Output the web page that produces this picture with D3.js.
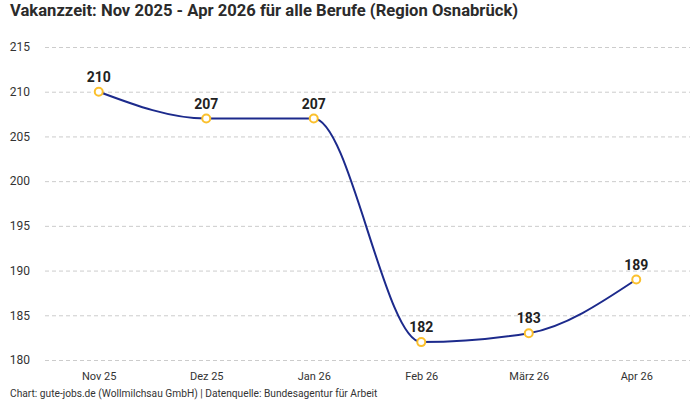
<!DOCTYPE html>
<html>
<head>
<meta charset="utf-8">
<script src="https://cdn.jsdelivr.net/npm/d3@7"></script>
<style>
  body { margin: 0; background: #fff; }
  svg { font-family: "Roboto", "Noto Sans", sans-serif; }
</style>
</head>
<body>
<svg width="700" height="400"></svg>
<script>
// Chart data
const months = ["Nov 25", "Dez 25", "Jan 26", "Feb 26", "März 26", "Apr 26"];
const vakanz = [210, 207, 207, 182, 183, 189];
const yTicks = [180, 185, 190, 195, 200, 205, 210, 215];

const width = 700, height = 400;
const margin = {top: 47, right: 10, bottom: 40, left: 45};

const svg = d3.select("svg");

// Scales
const x = d3.scalePoint()
    .domain(months)
    .range([margin.left, width - margin.right])
    .padding(0.5);

const y = d3.scaleLinear()
    .domain([180, 215])
    .range([360, margin.top]);

// Title
svg.append("text")
    .attr("x", 10).attr("y", 16)
    .attr("font-size", 16.6).attr("font-weight", "bold")
    .attr("fill", "#2b2b2b")
    .text("Vakanzzeit: Nov 2025 - Apr 2026 für alle Berufe (Region Osnabrück)");

// Grid lines + y labels
const yAxis = svg.append("g")
    .attr("transform", `translate(${margin.left},0)`)
    .call(d3.axisLeft(y).tickValues(yTicks).tickSize(-(width - margin.right - margin.left)).tickPadding(15));
yAxis.select(".domain").remove();
yAxis.selectAll(".tick line")
    .attr("stroke", "#cccccc")
    .attr("stroke-dasharray", "4,3");
yAxis.selectAll(".tick text")
    .attr("font-size", 12)
    .attr("fill", "#333")
    .attr("font-family", "Roboto, sans-serif");

// x labels
const xAxis = svg.append("g")
    .attr("transform", `translate(0,368)`)
    .call(d3.axisBottom(x).tickSize(0).tickPadding(4));
xAxis.select(".domain").remove();
xAxis.selectAll(".tick text")
    .attr("font-size", 11)
    .attr("fill", "#333")
    .attr("font-family", "Roboto, sans-serif");

// Line
const line = d3.line()
    .x((d, i) => x(months[i]))
    .y(d => y(d))
    .curve(d3.curveMonotoneX);

svg.append("path")
    .datum(vakanz)
    .attr("d", line)
    .attr("fill", "none")
    .attr("stroke", "#1c2a8c")
    .attr("stroke-width", 2);

// Points
svg.selectAll("circle.pt")
    .data(vakanz)
    .join("circle")
    .attr("class", "pt")
    .attr("cx", (d, i) => x(months[i]))
    .attr("cy", d => y(d))
    .attr("r", 4)
    .attr("fill", "#fff")
    .attr("stroke", "#fbc02d")
    .attr("stroke-width", 2);

// Value labels
svg.selectAll("text.val")
    .data(vakanz)
    .join("text")
    .attr("class", "val")
    .attr("x", (d, i) => x(months[i]))
    .attr("y", d => y(d) - 10)
    .attr("text-anchor", "middle")
    .attr("font-size", 14)
    .attr("font-weight", "bold")
    .attr("fill", "#222")
    .text(d => d);

// Footer
svg.append("text")
    .attr("x", 10).attr("y", 397)
    .attr("font-size", 10.2)
    .attr("fill", "#333")
    .text("Chart: gute-jobs.de (Wollmilchsau GmbH) | Datenquelle: Bundesagentur für Arbeit");
</script>
</body>
</html>
